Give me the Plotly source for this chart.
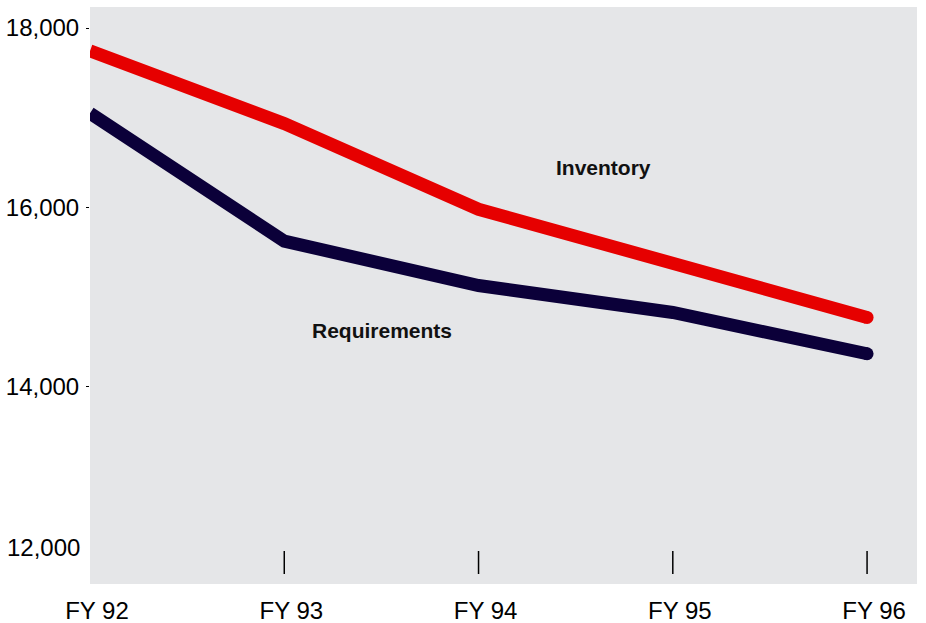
import plotly.graph_objects as go

# Fiscal years and the two series (units)
years = ["FY 92", "FY 93", "FY 94", "FY 95", "FY 96"]
inventory = [17745, 16935, 15980, 15390, 14775]
requirements = [17050, 15625, 15130, 14830, 14370]

y_ticks = [14000, 16000, 18000]
y_tick_labels = ["14,000", "16,000", "18,000"]
floor_value = 12000
floor_label = "12,000"

RED = "#e60000"
NAVY = "#0b0039"
BG = "#e5e6e8"
FONT = "Liberation Sans, Arial, Helvetica, sans-serif"

xpos = list(range(len(years)))
last = len(years) - 1

fig = go.Figure()

for values, color in [(requirements, NAVY), (inventory, RED)]:
    fig.add_trace(go.Scatter(
        x=xpos, y=values, mode="lines+markers",
        line=dict(color=color, width=13),
        marker=dict(color=color, size=[0] * last + [13], opacity=1,
                    line=dict(width=0)),
        hoverinfo="skip", showlegend=False,
    ))

# short vertical tick marks sitting just above the bottom edge
for xi in xpos[1:]:
    fig.add_shape(type="line", xref="x", yref="paper",
                  x0=xi, x1=xi, y0=0.0173, y1=0.0572,
                  line=dict(color="black", width=1.5))

# series labels
fig.add_annotation(x=2.643, y=16450, text="<b>Inventory</b>", showarrow=False,
                   font=dict(family=FONT, size=21, color="#111111"))
fig.add_annotation(x=1.501, y=14633, text="<b>Requirements</b>", showarrow=False,
                   font=dict(family=FONT, size=21, color="#111111"))

# bottom value label
fig.add_annotation(x=0, xref="paper", y=floor_value, yref="y", yshift=19,
                   xanchor="right", xshift=-8, text=floor_label, showarrow=False,
                   font=dict(family=FONT, size=24, color="black"))

fig.update_layout(
    width=926, height=623,
    margin=dict(l=90, r=9, t=7, b=39, autoexpand=False),
    paper_bgcolor="white", plot_bgcolor=BG,
    font=dict(family=FONT, size=24, color="black"),
    xaxis=dict(
        range=[0, 4.257], tickvals=xpos, ticktext=years,
        showgrid=False, zeroline=False, showline=False, ticks="",
        ticklabelshift=7, ticklabelstandoff=10, automargin=False,
        tickfont=dict(size=24),
    ),
    yaxis=dict(
        range=[11804, 18234], tickvals=y_ticks, ticktext=y_tick_labels,
        showgrid=False, zeroline=False, showline=False,
        ticks="outside", ticklen=3, tickcolor="black", tickwidth=1,
        ticklabelstandoff=2, automargin=False, tickfont=dict(size=24),
    ),
)

fig.write_html("out.html")
